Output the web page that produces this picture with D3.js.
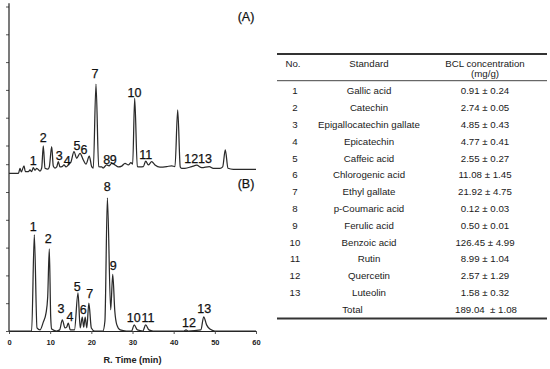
<!DOCTYPE html>
<html><head><meta charset="utf-8">
<script src="https://cdn.jsdelivr.net/npm/d3@7"></script>
<style>
html,body{margin:0;padding:0;background:#fff;}
svg{display:block;}
</style></head>
<body>
<svg id="c" width="550" height="369"></svg>
<script>
// ---- Data ----
// Chromatogram (A): [retention time (min), intensity (a.u.)]
const traceA = [[0,0],[2.3,0],[2.67,18],[2.99,5],[3.64,27],[3.96,6],[4.69,6],[5.1,12],[5.51,6],[5.9,20],[6.32,11],[6.73,18],[7.53,8],[7.94,19],[8.33,99],[8.74,18],[9.47,15],[9.79,23],[10.37,96],[10.76,26],[11.17,19],[11.59,23],[11.98,42],[12.39,23],[12.87,24],[13.36,30],[13.85,23],[14.57,33],[15.06,41],[15.79,78],[16.44,54],[17.25,72],[18.05,48],[18.7,33],[19.5,62],[20.09,24],[20.48,19],[21.13,321],[21.79,24],[22.52,23],[22.83,19],[23.73,30],[24.29,27],[24.95,36],[25.75,30],[26.55,23],[27.38,26],[28.18,36],[28.98,30],[29.63,38],[30.04,33],[30.53,270],[31.17,24],[31.82,23],[32.62,24],[33.21,44],[33.84,30],[34.66,42],[35.46,30],[36.68,22],[38.3,24],[39.52,27],[40.32,24],[40.98,228],[41.6,23],[41.94,18],[42.75,18],[44.38,24],[45.6,29],[46.81,20],[48.65,24],[49.62,18],[51.25,18],[51.9,23],[52.54,84],[53.2,18],[54.48,14],[60,14]];
// Chromatogram (B): standards
const traceB = [[0,0],[5.5,0],[6.15,346],[6.8,11],[7.53,4],[8.33,32],[8.99,64],[9.4,122],[9.79,295],[10.13,50],[10.37,7],[11.5,0],[12.3,4],[12.95,40],[13.6,11],[14.0,14],[14.4,28],[14.9,4],[15.9,4],[16.76,137],[17.3,11],[17.8,50],[18.15,14],[18.5,50],[18.9,11],[19.4,100],[20.0,11],[20.8,0],[22.8,0],[23.3,36],[23.9,479],[24.7,76],[25.2,204],[25.7,72],[26.2,22],[27.0,4],[28.5,0],[29.8,0],[30.4,22],[31.2,4],[32.5,0],[33.2,22],[34.0,4],[35.0,0],[42.5,0],[43.0,4],[43.5,0],[46.6,4],[47.3,51],[48.0,22],[48.8,7],[50,0],[60,0]];
// Peak labels: [text, time, intensity]
const labelsA = [["1",5.9,30],["2",8.33,114],["3",12.22,48],["4",14.16,30],["5",16.52,84],["6",18.22,69],["7",20.89,342],["8",23.73,33],["9",25.33,33],["10",30.48,275],["11",33.23,50],["12",44.26,38],["13",47.59,38],["(A)",57.57,549]];
const labelsB = [["1",5.9,360],["2",9.55,315],["3",12.63,64],["4",14.82,37],["5",16.59,144],["6",18.05,61],["7",19.6,119],["8",23.88,505],["9",25.33,219],["10",30.31,33],["11",33.76,33],["12",43.72,14],["13",47.44,66],["(B)",57.57,514]];
const xTicks = [0,10,20,30,40,50,60];
const yTicks = [0,100,200,300,400,500,600];
const xTitle = "R. Time (min)";

// Table
const colHeads = ["No.","Standard","BCL concentration","(mg/g)"];
const nos = ["1","2","3","4","5","6","7","8","9","10","11","12","13"];
const standards = ["Gallic acid","Catechin","Epigallocatechin gallate","Epicatechin","Caffeic acid","Chlorogenic acid","Ethyl gallate","p-Coumaric acid","Ferulic acid","Benzoic acid","Rutin","Quercetin","Luteolin"];
const means = [0.91,2.74,4.85,4.77,2.55,11.08,21.92,0.12,0.50,126.45,8.99,2.57,1.58];
const sds = [0.24,0.05,0.43,0.41,0.27,1.45,4.75,0.03,0.01,4.99,1.04,1.29,0.32];
const totalLabel = "Total";
const totalMean = 189.04, totalSd = 1.08;

// ---- Chart ----
const svg = d3.select("#c");
svg.append("rect").attr("width",550).attr("height",369).attr("fill","#fff");

const x = d3.scaleLinear().domain([0,60]).range([9,256]);
const yB = d3.scaleLinear().domain([0,600]).range([331,164.2]);
const yA = d3.scaleLinear().domain([0,600]).range([173.3,6.5]);

const chartFont = "'Liberation Sans', Arial, sans-serif";

// y axes (ticks only) + axis line
const gyB = svg.append("g").attr("transform",`translate(${x(0)},0)`)
  .call(d3.axisLeft(yB).tickValues(yTicks).tickSize(3).tickFormat(""));
gyB.select(".domain").remove();
const gyA = svg.append("g").attr("transform",`translate(${x(0)},0)`)
  .call(d3.axisLeft(yA).tickValues(yTicks.slice(1)).tickSize(3).tickFormat(""));
gyA.select(".domain").remove();
svg.selectAll(".tick line").attr("stroke","#555");
svg.append("line").attr("x1",x(0)).attr("x2",x(0)).attr("y1",yA(612)).attr("y2",yB(0))
  .attr("stroke","#222").attr("stroke-width",1.2);

// x axis
const gx = svg.append("g").attr("transform",`translate(0,${yB(0)})`)
  .call(d3.axisBottom(x).tickValues(xTicks).tickSizeInner(3).tickSizeOuter(0).tickPadding(6));
gx.select(".domain").attr("stroke","#222").attr("stroke-width",1.2);
gx.selectAll(".tick line").attr("stroke","#555");
gx.selectAll("text").attr("font-family",chartFont).attr("font-weight","bold").attr("font-size",7.5).attr("fill","#222");

svg.append("text").attr("x",(x(0)+x(60))/2).attr("y",363)
  .attr("text-anchor","middle").attr("font-family",chartFont).attr("font-weight","bold")
  .attr("font-size",9.2).attr("fill","#222").text(xTitle);

// traces
const lineA = d3.line().x(d=>x(d[0])).y(d=>yA(d[1])).curve(d3.curveMonotoneX);
const lineB = d3.line().x(d=>x(d[0])).y(d=>yB(d[1])).curve(d3.curveMonotoneX);
svg.append("path").datum(traceA).attr("d",lineA).attr("fill","none").attr("stroke","#2a2a2a").attr("stroke-width",1.25);
svg.append("path").datum(traceB).attr("d",lineB).attr("fill","none").attr("stroke","#2a2a2a").attr("stroke-width",1.25);

// peak labels
function drawLabels(data, ys){
  svg.append("g").selectAll("text").data(data).join("text")
    .attr("x",d=>x(d[1])).attr("y",d=>ys(d[2]))
    .attr("text-anchor","middle").attr("font-family",chartFont)
    .attr("font-size",12.5).attr("fill","#111").attr("stroke","#111").attr("stroke-width",0.25).text(d=>d[0]);
}
drawLabels(labelsA, yA);
drawLabels(labelsB, yB);

// ---- Table ----
const tFont = "'Liberation Sans', Arial, sans-serif";
const tx0 = 277, tx1 = 547;
const colX = [295, 369, 485];
const rowY = d3.scaleLinear().domain([0,13]).range([94.3,312.7]);
const tg = svg.append("g").attr("font-family",tFont).attr("font-size",9.7).attr("fill","#1a1a1a").attr("text-anchor","middle");

tg.append("line").attr("x1",tx0).attr("x2",tx1).attr("y1",54).attr("y2",54).attr("stroke","#333").attr("stroke-width",1.8);
tg.append("line").attr("x1",tx0).attr("x2",tx1).attr("y1",80.7).attr("y2",80.7).attr("stroke","#444").attr("stroke-width",1);
tg.append("line").attr("x1",tx0).attr("x2",tx1).attr("y1",318.5).attr("y2",318.5).attr("stroke","#333").attr("stroke-width",1.8);

tg.append("text").attr("x",colX[0]-2).attr("y",66.7).text(colHeads[0]);
tg.append("text").attr("x",colX[1]).attr("y",66.7).text(colHeads[1]);
tg.append("text").attr("x",colX[2]).attr("y",66.7).text(colHeads[2]);
tg.append("text").attr("x",colX[2]).attr("y",76.5).text(colHeads[3]);

const rows = nos.map((n,i)=>({n, s:standards[i], v:`${means[i].toFixed(2)} \u00B1 ${sds[i].toFixed(2)}`}));
const rg = tg.selectAll("g.row").data(rows).join("g").attr("class","row");
rg.append("text").attr("x",colX[0]).attr("y",(d,i)=>rowY(i)).text(d=>d.n);
rg.append("text").attr("x",colX[1]).attr("y",(d,i)=>rowY(i)).text(d=>d.s);
rg.append("text").attr("x",colX[2]).attr("y",(d,i)=>rowY(i)).text(d=>d.v);
tg.append("text").attr("x",352.5).attr("y",rowY(13)).text(totalLabel);
tg.append("text").attr("x",486).attr("y",rowY(13)).style("white-space","pre")
  .text(`${totalMean.toFixed(2)}\u00A0 \u00B1 ${totalSd.toFixed(2)}`);
</script>
</body></html>
